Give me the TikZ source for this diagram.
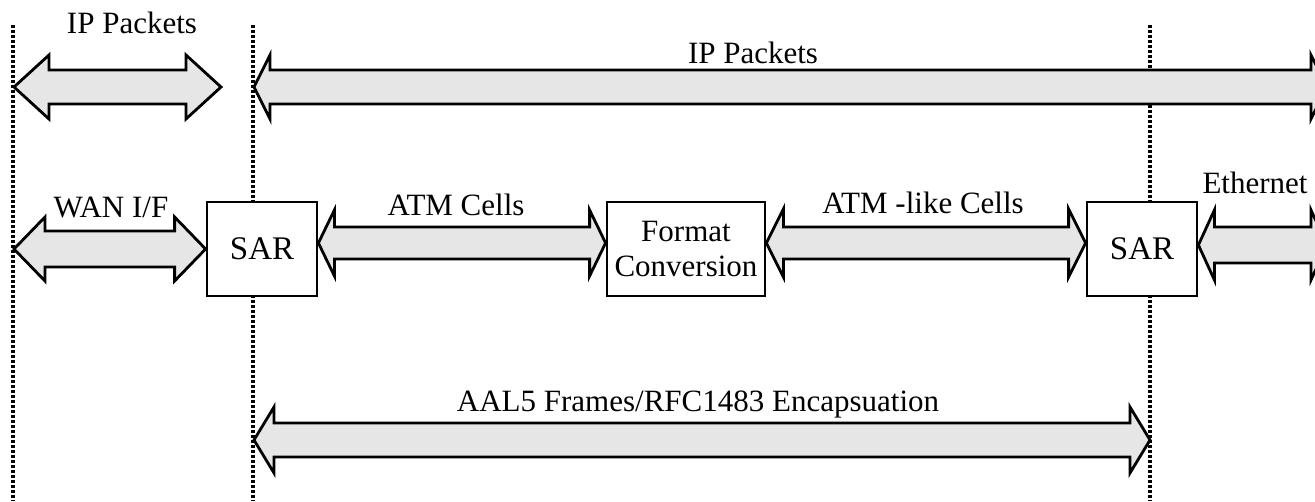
\documentclass[tikz,border=0pt]{standalone}
\usepackage{fontspec}
\setmainfont{Liberation Serif}
\usetikzlibrary{calc}
\definecolor{arrowfill}{HTML}{E6E6E6}
\tikzset{
  barrow/.style={draw=black, line width=2.8pt, fill=arrowfill, line join=miter},
  box/.style={draw=black, line width=2.8pt, fill=white, minimum height=94pt, inner sep=0pt, font=\fontsize{31}{36}\selectfont, align=center},
  lbl/.style={anchor=base, inner sep=0pt, font=\fontsize{31}{36}\selectfont},
  divider/.style={line width=3.2pt, dash pattern=on 3pt off 2pt}
}
\newcommand\blockarrow[5]{%
  \draw[barrow] let \p1=#1, \p2=#2 in
    (\x1,\y1) -- (\x1+#3,\y1+#4) -- (\x1+#3,\y1+#5) -- (\x2-#3,\y2+#5) -- (\x2-#3,\y2+#4)
    -- (\x2,\y2) -- (\x2-#3,\y2-#4) -- (\x2-#3,\y2-#5) -- (\x1+#3,\y1-#5) -- (\x1+#3,\y1-#4) -- cycle;}
\begin{document}
\begin{tikzpicture}[x=1pt,y=-1pt]
\useasboundingbox (0,0) rectangle (1315,501);
\clip (0,0) rectangle (1315,501);
% dividers
\coordinate (d1t) at (13,25);  \coordinate (d1b) at (13,501);
\coordinate (d2t) at (253,25); \coordinate (d2b) at (253,501);
\coordinate (d3t) at (1150,25);\coordinate (d3b) at (1150,501);
\draw[divider] (d1t) -- (d1b);
\draw[divider] (d2t) -- (d2b);
\draw[divider] (d3t) -- (d3b);
% boxes
\node[box, minimum width=110pt, font=\fontsize{33}{38}\selectfont] (sar1) at (262,249) {SAR};
\node[box, minimum width=158pt] (fc) at (686,249) {Format\\[-1pt]Conversion};
\node[box, minimum width=110pt, font=\fontsize{33}{38}\selectfont] (sar2) at (1142,249) {SAR};
% arrow end points
\coordinate (ipl1) at (14,87);   \coordinate (ipl2) at (221,87);
\coordinate (ip1) at (254,87);   \coordinate (ip2) at (1327,87);
\coordinate (wan1) at (14,249);
\coordinate (eth2) at (1327,245);
\coordinate (aal1) at (254,440); \coordinate (aal2) at (1150,440);
% block arrows
\blockarrow{(ipl1)}{(ipl2)}{35pt}{32pt}{17pt}
\blockarrow{(ip1)}{(ip2)}{16pt}{32pt}{17pt}
\blockarrow{(wan1)}{(sar1.west)}{31pt}{32pt}{18pt}
\blockarrow{($(sar1.east)+(0,-6)$)}{($(fc.west)+(0,-6)$)}{16pt}{33pt}{16pt}
\blockarrow{($(fc.east)+(0,-6)$)}{($(sar2.west)+(0,-6)$)}{17pt}{34pt}{16pt}
\blockarrow{($(sar2.east)+(0,-4)$)}{(eth2)}{16pt}{35pt}{18pt}
\blockarrow{(aal1)}{(aal2)}{20pt}{33pt}{17pt}
% labels
\node[lbl] (l1) at (132,33) {IP Packets};
\node[lbl] (l2) at (753,63) {IP Packets};
\node[lbl] (l3) at (111,217) {WAN I/F};
\node[lbl] (l4) at (456,215) {ATM Cells};
\node[lbl] (l5) at (923,213) {ATM -like Cells};
\node[lbl] (l6) at (1255,193) {Ethernet};
\node[lbl] (l7) at (698,411) {AAL5 Frames/RFC1483 Encapsuation};
\end{tikzpicture}
\end{document}
